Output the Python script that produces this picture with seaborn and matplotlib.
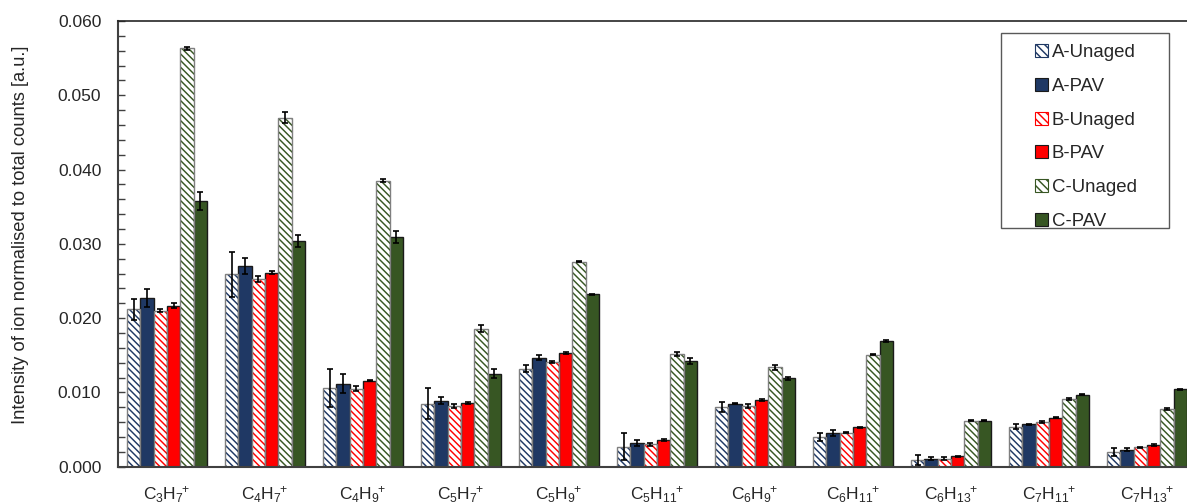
import numpy as np
import pandas as pd
import matplotlib
matplotlib.use('Agg')
import matplotlib.pyplot as plt
import seaborn as sns
from matplotlib.patches import Rectangle, Patch
from matplotlib.container import BarContainer
from matplotlib.ticker import MultipleLocator, FormatStrFormatter

# ---------------- data ----------------
ions = ['C$_3$H$_7{}^{\\!\\!+}$', 'C$_4$H$_7{}^{\\!\\!+}$', 'C$_4$H$_9{}^{\\!\\!+}$', 'C$_5$H$_7{}^{\\!\\!+}$',
        'C$_5$H$_9{}^{\\!\\!+}$', 'C$_5$H$_{11}{}^{\\!\\!+}$', 'C$_6$H$_9{}^{\\!\\!+}$', 'C$_6$H$_{11}{}^{\\!\\!+}$',
        'C$_6$H$_{13}{}^{\\!\\!+}$', 'C$_7$H$_{11}{}^{\\!\\!+}$', 'C$_7$H$_{13}{}^{\\!\\!+}$']
series = ['A-Unaged', 'A-PAV', 'B-Unaged', 'B-PAV', 'C-Unaged', 'C-PAV']

a_unaged = [0.0212, 0.0259, 0.0106, 0.0085, 0.0132, 0.0027, 0.0080, 0.0040, 0.0009, 0.0054, 0.0020]
a_unaged_err = [0.0014, 0.0030, 0.0025, 0.0021, 0.0005, 0.0018, 0.0007, 0.00055, 0.0007, 0.00035, 0.00055]
a_pav = [0.0227, 0.0270, 0.0112, 0.0089, 0.0147, 0.0032, 0.0085, 0.0045, 0.0011, 0.0057, 0.0023]
a_pav_err = [0.0012, 0.0011, 0.0013, 0.0005, 0.0003, 0.00045, 0.0001, 0.0004, 0.00025, 0.0001, 0.0002]
b_unaged = [0.0210, 0.0253, 0.0105, 0.0082, 0.0141, 0.0030, 0.0082, 0.0046, 0.0011, 0.0060, 0.0026]
b_unaged_err = [0.0002, 0.0004, 0.0003, 0.0003, 0.0001, 0.00015, 0.00025, 0.0001, 0.00015, 0.0001, 0.0001]
b_pav = [0.0217, 0.0261, 0.0116, 0.0086, 0.0153, 0.0036, 0.0090, 0.0053, 0.0014, 0.0066, 0.0029]
b_pav_err = [0.0003, 0.0002, 0.0001, 0.0001, 0.0001, 0.0001, 0.00015, 0.0001, 0.0001, 0.0001, 0.0001]
c_unaged = [0.0563, 0.0470, 0.0385, 0.0186, 0.0276, 0.0152, 0.0134, 0.0151, 0.0062, 0.0091, 0.0078]
c_unaged_err = [0.0002, 0.0007, 0.0002, 0.0005, 0.0001, 0.00025, 0.00035, 0.0001, 0.0001, 0.0001, 0.0001]
c_pav = [0.0358, 0.0304, 0.0309, 0.0125, 0.0232, 0.0142, 0.0119, 0.0169, 0.0062, 0.0097, 0.0104]
c_pav_err = [0.0012, 0.0008, 0.0008, 0.0006, 0.0001, 0.0004, 0.0002, 0.0001, 0.0001, 0.0001, 0.0001]

values = [a_unaged, a_pav, b_unaged, b_pav, c_unaged, c_pav]
errors = [a_unaged_err, a_pav_err, b_unaged_err, b_pav_err, c_unaged_err, c_pav_err]
colors = ['#1F3864', '#1F3864', '#FF0000', '#FF0000', '#375623', '#375623']
hatched = [True, False, True, False, True, False]

# ---------------- style ----------------
sns.set_theme(style='white')
plt.rcParams['font.family'] = ['Liberation Sans', 'DejaVu Sans']
plt.rcParams['mathtext.fontset'] = 'custom'
plt.rcParams['mathtext.rm'] = 'Liberation Sans'
plt.rcParams['mathtext.it'] = 'Liberation Sans:italic'
plt.rcParams['mathtext.bf'] = 'Liberation Sans:bold'
plt.rcParams['mathtext.default'] = 'regular'
plt.rcParams['hatch.linewidth'] = 1.05

HATCH = '\\\\\\\\\\'

fig = plt.figure(figsize=(11.87, 5.04), dpi=100)
ax = fig.add_axes([118 / 1187, 1 - 466.7 / 504, (1196 - 118) / 1187, (466.7 - 21) / 504])

df = pd.DataFrame({
    'ion': np.tile(ions, len(series)),
    'series': np.repeat(series, len(ions)),
    'value': np.concatenate(values),
})

sns.barplot(data=df, x='ion', y='value', hue='series', order=ions, hue_order=series,
            palette=colors, saturation=1, width=0.82, errorbar=None, legend=False, ax=ax)

bar_containers = [c for c in ax.containers if isinstance(c, BarContainer)]
for i, cont in enumerate(bar_containers):
    xs = []
    for p in cont.patches:
        xs.append(p.get_x() + p.get_width() / 2)
        if hatched[i]:
            p.set_facecolor('white')
            p.set_edgecolor(colors[i])
            p.set_hatch(HATCH)
            p.set_linewidth(0)
            ax.add_patch(Rectangle((p.get_x(), p.get_y()), p.get_width(), p.get_height(),
                                   fill=False, edgecolor='#7F7F7F', linewidth=1.0, zorder=p.get_zorder() + 0.1))
        else:
            p.set_edgecolor('#1a1a1a')
            p.set_linewidth(1.0)
    ax.errorbar(xs, values[i], yerr=errors[i], fmt='none', ecolor='black',
                elinewidth=1.2, capsize=2.2, capthick=1.2, zorder=5)

ax.set_xlim(-0.5, len(ions) - 0.5)
ax.set_ylim(0, 0.060)
ax.yaxis.set_major_locator(MultipleLocator(0.010))
ax.yaxis.set_minor_locator(MultipleLocator(0.002))
ax.yaxis.set_major_formatter(FormatStrFormatter('%.3f'))
ax.tick_params(axis='y', which='both', direction='in', length=5, width=1, color='#404040',
               labelsize=12.5, pad=12, left=True)
ax.tick_params(axis='x', length=0, labelsize=12.5, pad=13)
ax.set_xlabel('')
ax.set_ylabel('Intensity of ion normalised to total counts [a.u.]', fontsize=13.2)
ax.yaxis.set_label_coords(-0.0826, 0.52)

for s in ['left', 'bottom']:
    ax.spines[s].set_color('#404040')
    ax.spines[s].set_linewidth(1.5)
ax.spines['top'].set_color('#262626')
ax.spines['top'].set_linewidth(1.2)
ax.spines['right'].set_visible(True)

handles = []
for i, name in enumerate(series):
    if hatched[i]:
        handles.append(Patch(facecolor='white', edgecolor=colors[i], hatch='\\\\\\\\', linewidth=0.8, label=name))
    else:
        handles.append(Patch(facecolor=colors[i], edgecolor='#1a1a1a', linewidth=0.8, label=name))

fig.legend(handles=handles, loc='center', bbox_to_anchor=(1086 / 1187, 1 - 137 / 504),
           frameon=False, fontsize=13.4, handlelength=0.7, handleheight=0.7,
           handletextpad=0.2, labelspacing=0.90)
fig.add_artist(Rectangle((1001 / 1187, 1 - 228 / 504), 168 / 1187, 195 / 504,
                         transform=fig.transFigure, fill=False, edgecolor='#595959', linewidth=1.0))

fig.savefig('out.png', dpi=100)
